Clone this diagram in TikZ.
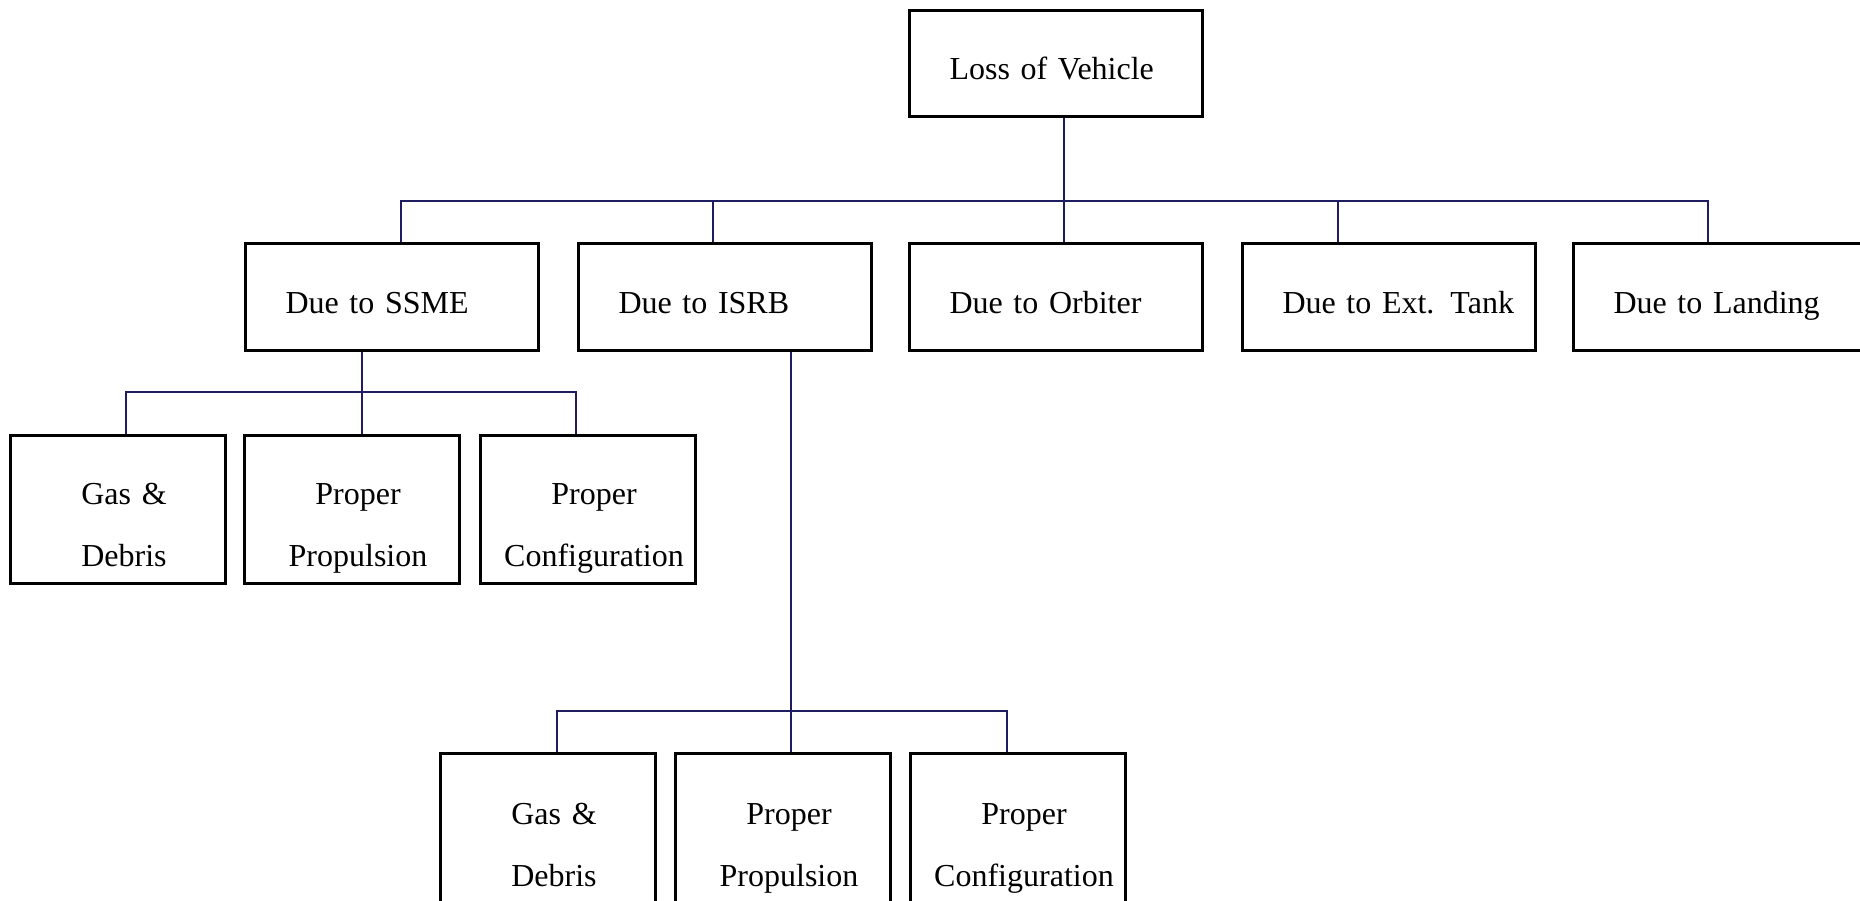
\documentclass[tikz,border=0pt]{standalone}
\usepackage{fontspec}
\setmainfont{Liberation Serif}
\usetikzlibrary{calc}
\definecolor{wirecol}{RGB}{32,28,96}
\begin{document}
\begin{tikzpicture}[x=1pt,y=-1pt,
  box/.style={draw=black, line width=3pt, rectangle, anchor=north west, inner ysep=0pt},
  cause/.style={box, minimum height=#1, inner xsep=40pt, text width=213pt, align=left,
    text height=32pt, text depth=0pt, font=\fontsize{32}{38}\selectfont},
  cause/.default=107pt,
  leaf/.style={box, minimum width=215pt, minimum height=#1, inner xsep=10pt, text width=195pt,
    align=center, text height=22pt, text depth=32pt, font=\fontsize{32}{62}\selectfont,
    execute at begin node={\advance\leftskip by 12pt}},
  wire/.style={draw=wirecol, line width=2.8pt}]
\useasboundingbox (0,0) rectangle (1860,901);
\fill[white] (0,0) rectangle (1860,901);
\clip (0,0) rectangle (1860,901);

% top event
\node[cause=106pt] (lov) at (908,9) {Loss of Vehicle};

% first level causes
\node[cause] (ssme) at (244,242) {Due to SSME};
\node[cause] (isrb) at (577,242) {Due to ISRB};
\node[cause] (orb)  at (908,242) {Due to Orbiter};
\node[cause] (ext)  at (1241,242) {\mbox{Due to Ext. Tank}};
\node[cause] (land) at (1572,242) {Due to Landing};

% SSME branch
\node[leaf=148pt] (sg) at (9,434)   {Gas \&\\Debris};
\node[leaf=148pt] (sp) at (243,434) {Proper\\Propulsion};
\node[leaf=148pt] (sc) at (479,434) {Proper\\Configuration};

% ISRB branch (boxes run past the lower edge)
\node[leaf=151pt] (ig) at (439,752) {Gas \&\\Debris};
\node[leaf=151pt] (ip) at (674,752) {Proper\\Propulsion};
\node[leaf=151pt] (ic) at (909,752) {Proper\\Configuration};

% bus junctions
\coordinate (b1) at (401,201);
\coordinate (b2) at (713,201);
\coordinate (b3) at (1064,201);
\coordinate (b4) at (1338,201);
\coordinate (b5) at (1708,201);
\coordinate (s0) at (362,392);
\coordinate (s1) at (126,392);
\coordinate (s3) at (576,392);
\coordinate (i0) at (791,711);
\coordinate (i1) at (557,711);
\coordinate (i3) at (1007,711);

% connectors, first level
\draw[wire] (lov.south -| b3) -- (orb.north -| b3);
\draw[wire] (ssme.north -| b1) -- (b1) -- (b5) -- (land.north -| b5);
\draw[wire] (isrb.north -| b2) -- (b2);
\draw[wire] (ext.north -| b4) -- (b4);

% connectors, SSME branch
\draw[wire] (ssme.south -| s0) -- (sp.north -| s0);
\draw[wire] (sg.north -| s1) -- (s1) -- (s3) -- (sc.north -| s3);

% connectors, ISRB branch
\draw[wire] (isrb.south -| i0) -- (ip.north -| i0);
\draw[wire] (ig.north -| i1) -- (i1) -- (i3) -- (ic.north -| i3);
\end{tikzpicture}
\end{document}
